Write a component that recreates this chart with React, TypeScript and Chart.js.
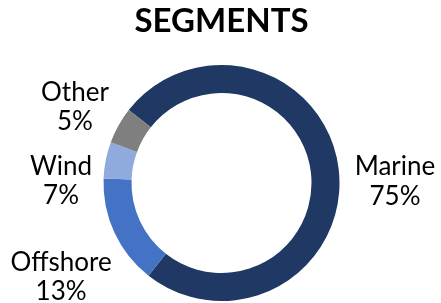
import React, { useEffect, useRef } from "react";
import { Chart, registerables } from "chart.js";

Chart.register(...registerables);

const categories = ["Marine", "Offshore", "Wind", "Other"];
const sliceValues = [75, 15, 5, 5];
const percentLabels = ["75%", "13%", "7%", "5%"];
const sliceColors = ["#1F3864", "#4472C4", "#8FAADC", "#7F7F7F"];
const chartTitle = "SEGMENTS";

const FONT = "Lato, 'Open Sans', sans-serif";
// label placement tweaks (dx, dy) relative to a point beyond the ring
const labelNudge: [number, number][] = [
  [16.6, 16],
  [-17, 26.7],
  [-5.5, 27.7],
  [-8.6, 0],
];

const outsideLabels = {
  id: "outsideLabels",
  afterDatasetsDraw(chart: any) {
    const ctx = chart.ctx;
    const meta = chart.getDatasetMeta(0);
    ctx.save();
    ctx.fillStyle = "#000000";
    ctx.font = `26px ${FONT}`;
    ctx.textAlign = "center";
    ctx.textBaseline = "alphabetic";
    const capH = 19;
    const lineGap = 29.5;
    meta.data.forEach((arc: any, i: number) => {
      const { x, y, startAngle, endAngle, outerRadius } = arc.getProps(
        ["x", "y", "startAngle", "endAngle", "outerRadius"],
        true
      );
      const mid = (startAngle + endAngle) / 2;
      const r = outerRadius + 40;
      const cx = x + Math.cos(mid) * r + labelNudge[i][0];
      const cy = y + Math.sin(mid) * r + labelNudge[i][1];
      ctx.fillText(categories[i], cx, cy - lineGap / 2 + capH / 2);
      ctx.fillText(percentLabels[i], cx, cy + lineGap / 2 + capH / 2);
    });
    ctx.restore();
  },
};

export default function App() {
  const ref = useRef<HTMLCanvasElement>(null);
  useEffect(() => {
    document.body.style.margin = "0";
    const chart = new Chart(ref.current!, {
      type: "doughnut",
      data: {
        labels: categories,
        datasets: [
          {
            data: sliceValues,
            backgroundColor: sliceColors,
            borderWidth: 0,
          },
        ],
      },
      options: {
        animation: false,
        responsive: false,
        devicePixelRatio: 1,
        rotation: -51.8,
        radius: 118,
        cutout: 90,
        layout: { padding: { top: 0, bottom: 2, left: 2, right: 0 } },
        plugins: {
          legend: { display: false },
          tooltip: { enabled: false },
          title: {
            display: true,
            text: chartTitle,
            color: "#000000",
            font: { family: FONT, size: 33, weight: "bold", lineHeight: 1.2 },
            padding: { top: 1.4, bottom: 24 },
          },
        },
      },
      plugins: [outsideLabels],
    });
    return () => chart.destroy();
  }, []);
  return (
    <div style={{ width: 441, height: 303 }}>
      <canvas ref={ref} width={441} height={303} />
    </div>
  );
}
